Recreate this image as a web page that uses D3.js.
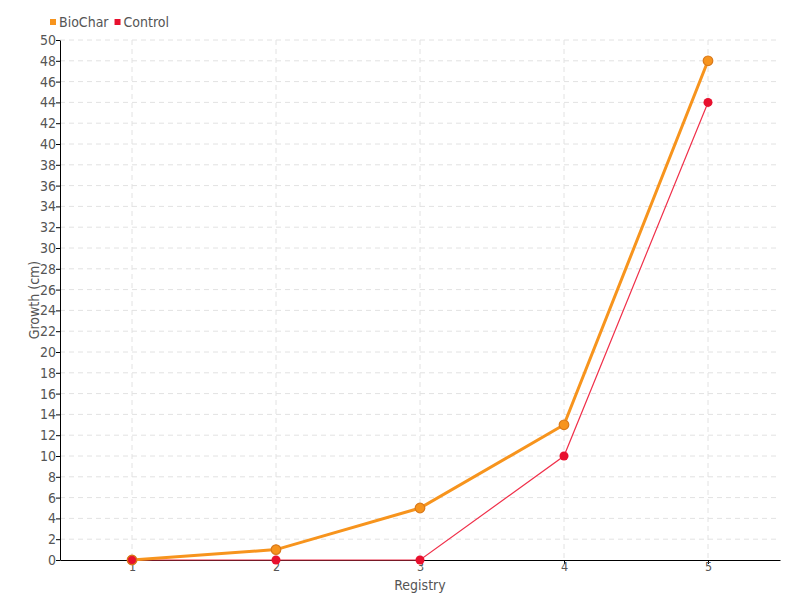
<html lang="en">
<head>
<meta charset="UTF-8">
<title>Growth</title>
<script src="https://d3js.org/d3.v7.min.js"></script>
<style>
    body { margin: 0; background: #fff; }
    svg text { font-family: 'DejaVu Sans Condensed', 'Liberation Sans Narrow', sans-serif; fill: #555; }
    .grid line { stroke: #e2e2e2; stroke-dasharray: 5,4; }
    .axis path, .axis line { stroke: #000; }
</style>
</head>
<body>
<svg id="chart" width="800" height="600"></svg>
<script>
    const registry = [1, 2, 3, 4, 5];
    const biochar = [0, 1, 5, 13, 48];
    const control = [0, 0, 0, 10, 44];
    const yTicks = d3.range(0, 51, 2);

    const margin = { top: 40, right: 20, bottom: 40, left: 60 };
    const width = 800, height = 600;
    const svg = d3.select('#chart');

    const x = d3.scalePoint()
        .domain(registry)
        .range([margin.left, width - margin.right])
        .padding(0.5);
    const y = d3.scaleLinear()
        .domain([0, 50])
        .range([height - margin.bottom, margin.top]);

    // grid
    const grid = svg.append('g').attr('class', 'grid');
    grid.selectAll('.h').data(yTicks.filter(d => d > 0)).join('line')
        .attr('x1', margin.left).attr('x2', width - margin.right)
        .attr('y1', d => y(d)).attr('y2', d => y(d));
    grid.selectAll('.v').data(registry).join('line')
        .attr('x1', d => x(d)).attr('x2', d => x(d))
        .attr('y1', margin.top).attr('y2', height - margin.bottom);

    // axes
    const xAxis = svg.append('g').attr('class', 'axis')
        .attr('transform', `translate(0,${height - margin.bottom})`)
        .call(d3.axisBottom(x).tickSize(4).tickSizeOuter(0));
    xAxis.selectAll('text').attr('font-size', 12.5).attr('y', 2).attr('dy', '0.71em');

    const yAxis = svg.append('g').attr('class', 'axis')
        .attr('transform', `translate(${margin.left},0)`)
        .call(d3.axisLeft(y).tickValues(yTicks).tickSize(4).tickSizeOuter(0));
    yAxis.selectAll('text').attr('font-size', 14).attr('x', -4);

    svg.append('text')
        .attr('x', (margin.left + width - margin.right) / 2)
        .attr('y', 590)
        .attr('text-anchor', 'middle')
        .attr('font-size', 14)
        .text('Registry');
    svg.append('text')
        .attr('transform', `translate(39,${(margin.top + height - margin.bottom) / 2}) rotate(-90)`)
        .attr('text-anchor', 'middle')
        .attr('font-size', 14)
        .text('Growth (cm)');

    const line = d3.line().x((d, i) => x(registry[i])).y(d => y(d));

    // control series
    svg.append('path').datum(control)
        .attr('d', line).attr('fill', 'none')
        .attr('stroke', '#f0304a').attr('stroke-width', 1.2);
    svg.selectAll('.cdot').data(control).join('circle')
        .attr('cx', (d, i) => x(registry[i])).attr('cy', d => y(d))
        .attr('r', 4.5).attr('fill', '#e8102e');

    // biochar series
    svg.append('path').datum(biochar)
        .attr('d', line).attr('fill', 'none')
        .attr('stroke', '#f7941d').attr('stroke-width', 3);
    svg.selectAll('.bdot').data(biochar).join('circle')
        .attr('cx', (d, i) => x(registry[i])).attr('cy', d => y(d))
        .attr('r', 4.8).attr('fill', '#f7941d')
        .attr('stroke', '#d9791a').attr('stroke-width', 1.2);

    // first control point sits on top in the reference
    svg.append('circle')
        .attr('cx', x(registry[0])).attr('cy', y(control[0]))
        .attr('r', 4.5).attr('fill', '#e8102e')
        .attr('stroke', '#d9791a').attr('stroke-width', 1);

    // legend
    const legend = [
        { name: 'BioChar', color: '#f7941d' },
        { name: 'Control', color: '#e8102e' }
    ];
    let lx = 50;
    legend.forEach(l => {
        svg.append('rect').attr('x', lx).attr('y', 19).attr('width', 6).attr('height', 6).attr('fill', l.color);
        const t = svg.append('text').attr('x', lx + 9).attr('y', 27).attr('font-size', 14).text(l.name);
        lx += 9 + t.node().getComputedTextLength() + 6;
    });
</script>
</body>
</html>
